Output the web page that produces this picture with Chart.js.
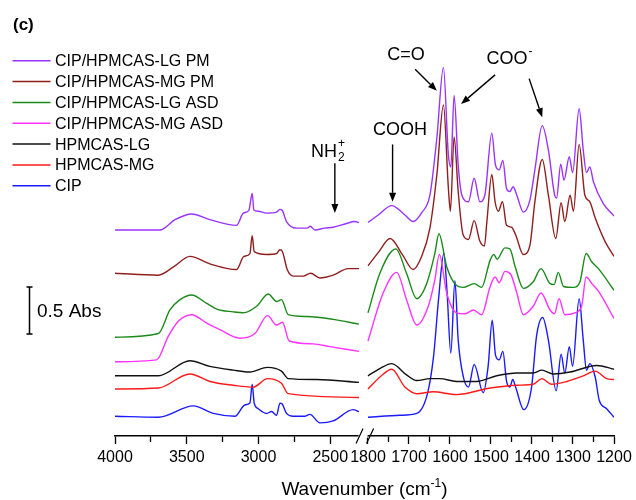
<!DOCTYPE html>
<html>
<head>
<meta charset="utf-8">
<script src="https://cdn.jsdelivr.net/npm/chart.js@4/dist/chart.umd.min.js"></script>
<style>
  html,body{margin:0;padding:0;background:#fff}
  #wrap{width:636px;height:500px;position:relative}
</style>
</head>
<body>
<div id="wrap"><canvas id="c" width="636" height="500"></canvas></div>
<script>
// ---- Spectra: [wavenumber cm-1, absorbance incl. vertical offset] ----
// left panel 4000-2300, right panel 1800-1200
const lgPmL = [[4000,2.19],[3800,2.19],[3687,2.19],[3582,2.30],[3466,2.36],[3339,2.30],[3153,2.24],[3106,2.37],[3067,2.40],[3044,2.58],[3032,2.40],[3002,2.39],[2944,2.37],[2874,2.38],[2851,2.41],[2835,2.40],[2805,2.28],[2735,2.21],[2660,2.21],[2640,2.23],[2607,2.19],[2540,2.21],[2480,2.22],[2387,2.26],[2329,2.28],[2300,2.27]];
const lgPmR = [[1800,2.27],[1775,2.35],[1742,2.45],[1710,2.35],[1690,2.28],[1668,2.38],[1649,2.56],[1632,3.17],[1616,3.92],[1604,2.99],[1598,2.86],[1590,3.62],[1580,2.88],[1571,2.56],[1555,2.49],[1541,2.74],[1527,2.49],[1515,2.56],[1498,3.22],[1489,2.88],[1480,2.83],[1471,2.93],[1462,2.63],[1454,2.60],[1446,2.65],[1437,2.56],[1421,2.38],[1405,2.51],[1393,2.83],[1375,3.30],[1360,3.04],[1344,2.55],[1340,2.53],[1330,2.89],[1322,2.72],[1309,2.97],[1301,2.80],[1285,3.48],[1275,3.04],[1267,2.80],[1259,2.86],[1250,2.70],[1226,2.47],[1200,2.34]];

const mgPmL = [[4000,1.73],[3698,1.71],[3590,1.80],[3478,1.91],[3339,1.83],[3153,1.77],[3102,1.91],[3060,1.94],[3044,2.13],[3030,1.96],[2944,1.93],[2874,1.94],[2851,1.98],[2833,1.96],[2800,1.77],[2758,1.70],[2688,1.70],[2637,1.73],[2572,1.68],[2480,1.71],[2375,1.78],[2300,1.78]];
const mgPmR = [[1800,1.81],[1775,1.95],[1746,2.10],[1715,1.92],[1690,1.77],[1670,1.90],[1649,2.21],[1632,2.78],[1616,3.52],[1604,2.64],[1599,2.39],[1590,3.18],[1580,2.60],[1568,2.14],[1555,2.09],[1541,2.29],[1527,2.07],[1516,2.02],[1510,2.28],[1498,2.78],[1490,2.49],[1482,2.39],[1472,2.49],[1462,2.24],[1450,2.22],[1440,2.14],[1421,1.93],[1405,2.03],[1393,2.49],[1375,2.94],[1360,2.56],[1342,2.10],[1329,2.48],[1320,2.28],[1307,2.56],[1299,2.39],[1285,3.10],[1271,2.56],[1259,2.49],[1246,2.32],[1222,2.07],[1200,1.91]];

const lgAsdL = [[4000,1.05],[3698,1.09],[3617,1.34],[3547,1.45],[3466,1.50],[3361,1.41],[3292,1.35],[3176,1.32],[3106,1.31],[3013,1.38],[2932,1.51],[2874,1.43],[2840,1.45],[2793,1.29],[2665,1.27],[2480,1.24],[2300,1.19]];
const lgAsdR = [[1800,1.31],[1771,1.73],[1732,1.99],[1706,1.73],[1681,1.46],[1657,1.62],[1637,1.94],[1627,2.15],[1608,1.80],[1584,1.60],[1568,1.58],[1541,1.62],[1523,1.58],[1502,1.87],[1493,1.93],[1485,1.88],[1466,2.00],[1454,1.99],[1441,1.80],[1421,1.57],[1397,1.64],[1378,1.78],[1356,1.62],[1346,1.61],[1336,1.74],[1323,1.59],[1299,1.58],[1283,1.64],[1268,1.94],[1254,1.85],[1238,1.78],[1200,1.55]];

const mgAsdL = [[4000,0.79],[3710,0.81],[3629,1.06],[3559,1.22],[3466,1.29],[3361,1.20],[3269,1.13],[3130,1.04],[3025,1.09],[2937,1.28],[2874,1.18],[2833,1.21],[2786,1.01],[2619,0.98],[2503,0.95],[2300,0.90]];
const mgAsdR = [[1800,1.01],[1763,1.52],[1730,1.74],[1706,1.45],[1681,1.18],[1653,1.38],[1637,1.66],[1626,1.93],[1608,1.52],[1584,1.31],[1563,1.30],[1543,1.34],[1523,1.29],[1502,1.59],[1490,1.69],[1480,1.63],[1466,1.75],[1452,1.72],[1437,1.52],[1421,1.29],[1397,1.38],[1378,1.52],[1356,1.34],[1345,1.30],[1334,1.46],[1320,1.29],[1295,1.31],[1279,1.38],[1268,1.69],[1254,1.62],[1238,1.54],[1200,1.25]];

const lgL = [[4000,0.64],[3698,0.64],[3478,0.80],[3339,0.74],[3176,0.70],[3060,0.68],[2937,0.73],[2840,0.69],[2793,0.61],[2595,0.60],[2300,0.57]];
const lgR = [[1800,0.64],[1770,0.72],[1742,0.77],[1706,0.65],[1681,0.59],[1649,0.61],[1625,0.61],[1584,0.58],[1535,0.58],[1486,0.64],[1437,0.67],[1397,0.67],[1376,0.70],[1348,0.66],[1307,0.68],[1242,0.75],[1200,0.71]];

const mgL = [[4000,0.50],[3698,0.51],[3478,0.66],[3339,0.58],[3176,0.54],[3037,0.52],[2937,0.61],[2840,0.56],[2793,0.45],[2300,0.41]];
const mgR = [[1800,0.50],[1770,0.63],[1742,0.71],[1710,0.52],[1681,0.45],[1641,0.47],[1584,0.44],[1502,0.51],[1437,0.54],[1397,0.55],[1376,0.61],[1352,0.55],[1315,0.58],[1275,0.64],[1246,0.69],[1218,0.61],[1200,0.60]];

const cipL = [[4000,0.21],[3698,0.20],[3455,0.32],[3315,0.24],[3164,0.21],[3095,0.33],[3060,0.35],[3044,0.55],[3030,0.35],[3002,0.29],[2944,0.24],[2909,0.26],[2874,0.22],[2851,0.35],[2835,0.34],[2805,0.24],[2758,0.21],[2680,0.21],[2642,0.23],[2572,0.14],[2480,0.16],[2341,0.28],[2300,0.26]];
const cipR = [[1800,0.20],[1722,0.22],[1681,0.24],[1655,0.45],[1640,0.85],[1628,1.45],[1615,1.94],[1607,1.52],[1598,0.88],[1588,1.65],[1580,1.02],[1567,0.62],[1555,0.52],[1541,0.76],[1519,0.46],[1507,0.74],[1497,1.23],[1489,0.86],[1480,0.81],[1471,0.90],[1462,0.58],[1454,0.52],[1447,0.60],[1440,0.52],[1420,0.28],[1401,0.52],[1389,1.06],[1374,1.26],[1360,1.02],[1341,0.48],[1329,0.87],[1320,0.67],[1309,0.95],[1301,0.74],[1285,1.46],[1275,1.02],[1267,0.70],[1259,0.77],[1246,0.63],[1236,0.38],[1218,0.29],[1200,0.20]];

const NAMES  = ['CIP/HPMCAS-LG PM','CIP/HPMCAS-MG PM','CIP/HPMCAS-LG ASD','CIP/HPMCAS-MG ASD','HPMCAS-LG','HPMCAS-MG','CIP'];
const COLORS = ['#9933ff','#8f1f1f','#1a8a1a','#ff33ff','#111111','#ff1a1a','#1a1aff'];
const LEFTS  = [lgPmL, mgPmL, lgAsdL, mgAsdL, lgL, mgL, cipL];
const RIGHTS = [lgPmR, mgPmR, lgAsdR, mgAsdR, lgR, mgR, cipR];

const TICK_W   = [4000,3750,3500,3250,3000,2750,2500,1800,1750,1700,1650,1600,1550,1500,1450,1400,1350,1300,1250,1200];
const TICK_TXT = ['4000','','3500','','3000','','2500','1800','','1700','','1600','','1500','','1400','','1300','','1200'];

// ---- Broken axis: left panel compressed, right panel 1 unit per cm-1 ----
const toU = w => w > 2000 ? (4000 - w) * 0.35 : 617 + (1800 - w);
const U_MAX = 1217;
const toPoints = (l, r) => [
  ...l.map(([w,a]) => ({x: toU(w), y: a})),
  {x: 606, y: null},
  ...r.map(([w,a]) => ({x: toU(w), y: a}))
];

const FONT = 'Liberation Sans, Arial, sans-serif';
Chart.defaults.font.family = FONT;

function arrow(ctx, x1, y1, x2, y2){
  const ang = Math.atan2(y2-y1, x2-x1), hl = 9, hw = 3.5;
  ctx.beginPath(); ctx.moveTo(x1,y1);
  ctx.lineTo(x2 - hl*Math.cos(ang), y2 - hl*Math.sin(ang)); ctx.stroke();
  ctx.beginPath(); ctx.moveTo(x2,y2);
  ctx.lineTo(x2 - hl*Math.cos(ang) + hw*Math.sin(ang), y2 - hl*Math.sin(ang) - hw*Math.cos(ang));
  ctx.lineTo(x2 - hl*Math.cos(ang) - hw*Math.sin(ang), y2 - hl*Math.sin(ang) + hw*Math.cos(ang));
  ctx.closePath(); ctx.fill();
}

const decor = {
  id: 'decor',
  afterDraw(chart){
    const {ctx, scales:{x, y}} = chart;
    const X = w => x.getPixelForValue(toU(w));
    const Y = a => y.getPixelForValue(a);
    ctx.save();
    ctx.fillStyle = '#000'; ctx.strokeStyle = '#000';

    // axis break
    const ay = x.top;
    const g1 = x.getPixelForValue(594), g2 = x.getPixelForValue(616);
    ctx.fillStyle = '#fff'; ctx.fillRect(g1, ay-2, g2-g1, 4);
    ctx.fillStyle = '#000'; ctx.lineWidth = 1.2;
    [g1+1, g2+2.5].forEach(cx => {
      ctx.beginPath(); ctx.moveTo(cx-3.5, ay+7.5); ctx.lineTo(cx+3.5, ay-7.5); ctx.stroke();
    });

    // axis title
    ctx.textBaseline = 'alphabetic'; ctx.textAlign = 'left';
    const big = '19px ' + FONT, small = '12px ' + FONT;
    ctx.font = big; const w1 = ctx.measureText('Wavenumber (cm').width, w3 = ctx.measureText(')').width;
    ctx.font = small; const w2 = ctx.measureText('-1').width;
    let tx = (x.left + x.right)/2 - (w1+w2+w3)/2; const tb = 495;
    ctx.font = big; ctx.fillText('Wavenumber (cm', tx, tb); tx += w1;
    ctx.font = small; ctx.fillText('-1', tx, tb-8); tx += w2;
    ctx.font = big; ctx.fillText(')', tx, tb);

    // panel label
    ctx.font = 'bold 17px ' + FONT; ctx.fillText('(c)', 13, 30);

    // legend
    ctx.font = '16px ' + FONT; ctx.textBaseline = 'middle';
    chart.data.datasets.forEach((ds, i) => {
      const ly = 60.7 + i*20.85;
      ctx.strokeStyle = ds.borderColor; ctx.lineWidth = 1.5;
      ctx.beginPath(); ctx.moveTo(12.5, ly); ctx.lineTo(50.5, ly); ctx.stroke();
      ctx.fillStyle = '#000'; ctx.fillText(ds.label, 55, ly+1);
    });

    // 0.5 Abs scale bar
    ctx.strokeStyle = '#000'; ctx.lineWidth = 1.5;
    const b0 = Y(1.085), b1 = Y(1.585);
    ctx.beginPath();
    ctx.moveTo(29.5, b0); ctx.lineTo(29.5, b1);
    ctx.moveTo(26.5, b0); ctx.lineTo(32.5, b0);
    ctx.moveTo(26.5, b1); ctx.lineTo(32.5, b1);
    ctx.stroke();
    ctx.font = '19px ' + FONT; ctx.fillText('0.5 Abs', 37, (b0+b1)/2 + 1);

    // band annotations
    ctx.textBaseline = 'alphabetic'; ctx.lineWidth = 1.4;
    ctx.font = '18px ' + FONT;
    ctx.textAlign = 'center';
    ctx.fillText('COOH', X(1722), Y(3.20));
    ctx.fillText('C=O', X(1707), Y(4.00));
    ctx.textAlign = 'left';
    ctx.fillText('COO', X(1511), Y(3.96));
    const cw = ctx.measureText('COO').width;
    ctx.font = '12px ' + FONT; ctx.fillText('-', X(1511)+cw+1, Y(3.96)-9);
    // NH2+
    ctx.font = '18px ' + FONT;
    const nx = X(2635), nb = Y(2.97);
    ctx.fillText('NH', nx, nb);
    const nw = ctx.measureText('NH').width;
    ctx.font = '12px ' + FONT;
    ctx.fillText('2', nx+nw+1, nb+4);
    ctx.fillText('+', nx+nw+1, nb-10);

    arrow(ctx, X(1740), Y(3.10), X(1740), Y(2.49));
    arrow(ctx, X(1685), Y(3.90), X(1632), Y(3.67));
    arrow(ctx, X(1490), Y(3.84), X(1573), Y(3.53));
    arrow(ctx, X(1407), Y(3.80), X(1375), Y(3.39));
    arrow(ctx, X(2468), Y(2.90), X(2468), Y(2.37));
    ctx.restore();
  }
};

new Chart(document.getElementById('c'), {
  type: 'line',
  data: {
    datasets: NAMES.map((n, i) => ({
      label: n,
      data: toPoints(LEFTS[i], RIGHTS[i]),
      borderColor: COLORS[i],
      borderWidth: 1.4,
      pointRadius: 0,
      fill: false,
      spanGaps: false,
      cubicInterpolationMode: 'monotone'
    }))
  },
  options: {
    responsive: false,
    animation: false,
    devicePixelRatio: 1,
    layout: {padding: {left: 115, right: 22, top: 41, bottom: 0}},
    plugins: {legend: {display: false}, tooltip: {enabled: false}},
    scales: {
      x: {
        type: 'linear', min: 0, max: U_MAX,
        afterBuildTicks: s => { s.ticks = TICK_W.map(w => ({value: toU(w)})); },
        afterFit: s => { s.height = 64; },
        ticks: {autoSkip: false, maxRotation: 0, padding: 4, color: '#000', font: {size: 16},
                callback: (v, i) => TICK_TXT[i]},
        grid: {drawOnChartArea: false, drawTicks: true, tickLength: 8, tickColor: '#000', tickWidth: 1.3,
               tickBorderDash: c => TICK_TXT[c.index] ? [] : [5.5, 20]},
        border: {display: true, color: '#000', width: 1.5}
      },
      y: {display: false, min: 0, max: 4.2}
    }
  },
  plugins: [decor]
});
</script>
</body>
</html>
